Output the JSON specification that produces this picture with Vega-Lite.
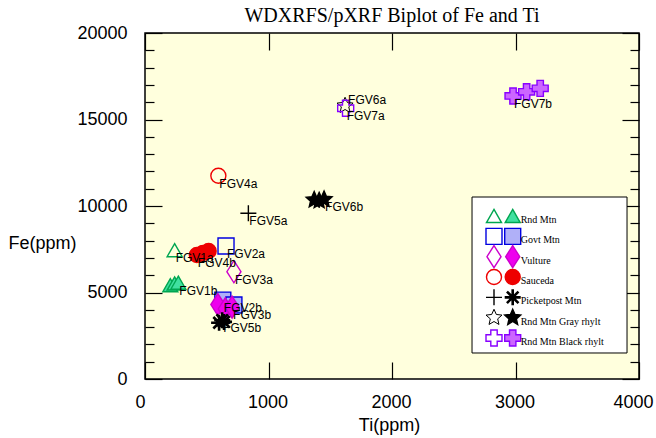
{
  "$schema": "https://vega.github.io/schema/vega-lite/v6.json",
  "width": 494,
  "height": 346,
  "autosize": {"type": "none"},
  "padding": {"left": 145, "top": 33, "right": 17, "bottom": 59},
  "background": "white",
  "title": {"text": "WDXRFS/pXRF Biplot of Fe and Ti", "font": "Liberation Serif", "fontSize": 20, "fontWeight": "normal", "color": "black", "anchor": "middle", "offset": -2},
  "config": {
    "view": {"fill": "#FFFFDD", "stroke": "black", "strokeWidth": 1.5},
    "axis": {"labelFont": "Liberation Sans", "labelFontSize": 18, "labelColor": "black", "titleFont": "Liberation Sans", "titleFontSize": 18, "titleFontWeight": "normal", "titleColor": "black", "tickColor": "black", "tickWidth": 1.2, "domain": false, "grid": false, "labelFlush": false, "labelOverlap": false},
    "point": {"size": 256, "opacity": 1}
  },
  "datasets": {
    "samples": [
      {"label": "FGV1a", "group": "Rnd Mtn", "method": "WDXRFS", "Ti": 240, "Fe": 7450},
      {"label": "", "group": "Rnd Mtn", "method": "pXRF", "Ti": 205, "Fe": 5420},
      {"label": "", "group": "Rnd Mtn", "method": "pXRF", "Ti": 240, "Fe": 5520},
      {"label": "FGV1b", "group": "Rnd Mtn", "method": "pXRF", "Ti": 270, "Fe": 5570},
      {"label": "FGV2a", "group": "Govt Mtn", "method": "WDXRFS", "Ti": 656, "Fe": 7690},
      {"label": "FGV2b", "group": "Govt Mtn", "method": "pXRF", "Ti": 630, "Fe": 4560},
      {"label": "", "group": "Govt Mtn", "method": "pXRF", "Ti": 720, "Fe": 4280},
      {"label": "FGV3a", "group": "Vulture", "method": "WDXRFS", "Ti": 720, "Fe": 6200},
      {"label": "", "group": "Vulture", "method": "pXRF", "Ti": 590, "Fe": 4300},
      {"label": "", "group": "Vulture", "method": "pXRF", "Ti": 650, "Fe": 4050},
      {"label": "FGV3b", "group": "Vulture", "method": "pXRF", "Ti": 705, "Fe": 4150},
      {"label": "FGV4a", "group": "Sauceda", "method": "WDXRFS", "Ti": 594, "Fe": 11750},
      {"label": "FGV4b", "group": "Sauceda", "method": "pXRF", "Ti": 420, "Fe": 7170},
      {"label": "", "group": "Sauceda", "method": "pXRF", "Ti": 470, "Fe": 7290},
      {"label": "", "group": "Sauceda", "method": "pXRF", "Ti": 515, "Fe": 7400},
      {"label": "FGV5a", "group": "Picketpost Mtn", "method": "WDXRFS", "Ti": 837, "Fe": 9580},
      {"label": "", "group": "Picketpost Mtn", "method": "pXRF", "Ti": 600, "Fe": 3250},
      {"label": "FGV5b", "group": "Picketpost Mtn", "method": "pXRF", "Ti": 625, "Fe": 3400},
      {"label": "", "group": "Picketpost Mtn", "method": "pXRF", "Ti": 640, "Fe": 3300},
      {"label": "FGV6a", "group": "Rnd Mtn Gray rhylt", "method": "WDXRFS", "Ti": 1620, "Fe": 15800},
      {"label": "", "group": "Rnd Mtn Gray rhylt", "method": "pXRF", "Ti": 1370, "Fe": 10350},
      {"label": "", "group": "Rnd Mtn Gray rhylt", "method": "pXRF", "Ti": 1410, "Fe": 10300},
      {"label": "FGV6b", "group": "Rnd Mtn Gray rhylt", "method": "pXRF", "Ti": 1450, "Fe": 10380},
      {"label": "FGV7a", "group": "Rnd Mtn Black rhylt", "method": "WDXRFS", "Ti": 1625, "Fe": 15650},
      {"label": "FGV7b", "group": "Rnd Mtn Black rhylt", "method": "pXRF", "Ti": 2980, "Fe": 16360},
      {"label": "", "group": "Rnd Mtn Black rhylt", "method": "pXRF", "Ti": 3090, "Fe": 16600},
      {"label": "", "group": "Rnd Mtn Black rhylt", "method": "pXRF", "Ti": 3200, "Fe": 16800}
    ]
  },
  "layer": [
    {
      "data": {"name": "samples"},
      "layer": [
        {
          "mark": {"type": "point", "opacity": 0},
          "encoding": {
            "x": {"field": "Ti", "type": "quantitative", "scale": {"domain": [0, 4000], "nice": false, "zero": false},
              "axis": {"orient": "bottom", "values": [0, 1000, 2000, 3000, 4000], "format": "d", "title": "Ti(ppm)", "titleX": 244, "titleY": 37, "titleBaseline": "top", "tickSize": -17, "labelPadding": 31,
                "labelOffset": {"condition": [{"test": "datum.value === 0", "value": -5}, {"test": "datum.value === 4000", "value": -6}], "value": -1}}},
            "y": {"field": "Fe", "type": "quantitative", "scale": {"domain": [0, 20000], "nice": false, "zero": false},
              "axis": {"orient": "left", "values": [0, 1000, 2000, 3000, 4000, 5000, 6000, 7000, 8000, 9000, 10000, 11000, 12000, 13000, 14000, 15000, 16000, 17000, 18000, 19000, 20000], "format": "d",
                "labelExpr": "datum.value % 5000 === 0 ? datum.label : ''",
                "tickSize": {"condition": {"test": "datum.value % 5000 === 0", "value": -17}, "value": -9},
                "labelPadding": 35, "title": "Fe(ppm)", "titleAngle": 0, "titleAlign": "left", "titleBaseline": "middle", "titleX": -137, "titleY": 210}}
          }
        },
        {
          "mark": {"type": "point", "opacity": 0},
          "encoding": {
            "x": {"field": "Ti", "type": "quantitative", "scale": {"domain": [0, 4000], "nice": false, "zero": false},
              "axis": {"orient": "top", "values": [0, 1000, 2000, 3000, 4000], "labels": false, "title": null, "tickSize": -17}},
            "y": {"field": "Fe", "type": "quantitative", "scale": {"domain": [0, 20000], "nice": false, "zero": false},
              "axis": {"orient": "right", "values": [0, 1000, 2000, 3000, 4000, 5000, 6000, 7000, 8000, 9000, 10000, 11000, 12000, 13000, 14000, 15000, 16000, 17000, 18000, 19000, 20000], "labels": false, "title": null,
                "tickSize": {"condition": {"test": "datum.value % 5000 === 0", "value": -17}, "value": -9}}}
          }
        },
        {
          "transform": [{"filter": "datum.method === 'WDXRFS'"}],
          "mark": {"type": "point", "filled": false, "opacity": 1, "size": 256},
          "encoding": {
            "x": {"field": "Ti", "type": "quantitative", "scale": {"domain": [0, 4000], "nice": false, "zero": false}, "axis": null},
            "y": {"field": "Fe", "type": "quantitative", "scale": {"domain": [0, 20000], "nice": false, "zero": false}, "axis": null},
            "shape": {"field": "group", "type": "nominal", "legend": null, "scale": {"domain": ["Rnd Mtn", "Govt Mtn", "Vulture", "Sauceda", "Picketpost Mtn", "Rnd Mtn Gray rhylt", "Rnd Mtn Black rhylt"], "range": ["M0,-0.82L0.94,0.82L-0.94,0.82Z", "square", "M0,-1.38L0.88,0L0,1.38L-0.88,0Z", "M0.94,0A0.94,0.94,0,1,1,-0.94,0A0.94,0.94,0,1,1,0.94,0Z", "M-1,0L1,0M0,-1L0,1", "M0,-1.05L0.29,-0.4L1,-0.32L0.46,0.15L0.62,0.85L0,0.48L-0.62,0.85L-0.46,0.15L-1,-0.32L-0.29,-0.4Z", "cross"]}},
            "stroke": {"field": "group", "type": "nominal", "legend": null, "scale": {"domain": ["Rnd Mtn", "Govt Mtn", "Vulture", "Sauceda", "Picketpost Mtn", "Rnd Mtn Gray rhylt", "Rnd Mtn Black rhylt"], "range": ["#00A651", "#0000E0", "#CC00CC", "#EE0000", "#000000", "#000000", "#8800FF"]}},
            "strokeWidth": {"condition": {"test": "datum.group === 'Rnd Mtn Gray rhylt'", "value": 1}, "value": 1.4}
          }
        },
        {
          "transform": [{"filter": "datum.method === 'pXRF'"}],
          "mark": {"type": "point", "filled": true, "opacity": 1, "size": 256},
          "encoding": {
            "x": {"field": "Ti", "type": "quantitative", "scale": {"domain": [0, 4000], "nice": false, "zero": false}, "axis": null},
            "y": {"field": "Fe", "type": "quantitative", "scale": {"domain": [0, 20000], "nice": false, "zero": false}, "axis": null},
            "shape": {"field": "group", "type": "nominal", "legend": null, "scale": {"domain": ["Rnd Mtn", "Govt Mtn", "Vulture", "Sauceda", "Picketpost Mtn", "Rnd Mtn Gray rhylt", "Rnd Mtn Black rhylt"], "range": ["M0,-0.82L0.94,0.82L-0.94,0.82Z", "square", "M0,-1.38L0.88,0L0,1.38L-0.88,0Z", "M0.94,0A0.94,0.94,0,1,1,-0.94,0A0.94,0.94,0,1,1,0.94,0Z", "M-1,0L1,0M0,-1L0,1M-0.72,-0.72L0.72,0.72M-0.72,0.72L0.72,-0.72", "M0,-1.05L0.29,-0.4L1,-0.32L0.46,0.15L0.62,0.85L0,0.48L-0.62,0.85L-0.46,0.15L-1,-0.32L-0.29,-0.4Z", "cross"]}},
            "fill": {"field": "group", "type": "nominal", "legend": null, "scale": {"domain": ["Rnd Mtn", "Govt Mtn", "Vulture", "Sauceda", "Picketpost Mtn", "Rnd Mtn Gray rhylt", "Rnd Mtn Black rhylt"], "range": ["#40E0A0", "#B0B0F8", "#EE00EE", "#EE0000", "#000000", "#000000", "#CC66FF"]}},
            "stroke": {"field": "group", "type": "nominal", "legend": null, "scale": {"domain": ["Rnd Mtn", "Govt Mtn", "Vulture", "Sauceda", "Picketpost Mtn", "Rnd Mtn Gray rhylt", "Rnd Mtn Black rhylt"], "range": ["#00A651", "#0000E0", "#CC00CC", "#EE0000", "#000000", "#000000", "#8800FF"]}},
            "strokeWidth": {"condition": {"test": "datum.group === 'Picketpost Mtn'", "value": 2.6}, "value": 1.4}
          }
        },
        {
          "transform": [{"filter": "datum.label !== '' && datum.label !== 'FGV6a'"}],
          "mark": {"type": "text", "align": "left", "baseline": "middle", "dx": 1, "dy": 8, "font": "Liberation Sans", "fontSize": 12, "color": "black"},
          "encoding": {
            "x": {"field": "Ti", "type": "quantitative", "scale": {"domain": [0, 4000], "nice": false, "zero": false}, "axis": null},
            "y": {"field": "Fe", "type": "quantitative", "scale": {"domain": [0, 20000], "nice": false, "zero": false}, "axis": null},
            "text": {"field": "label"}
          }
        },
        {
          "transform": [{"filter": "datum.label === 'FGV6a'"}],
          "mark": {"type": "text", "align": "left", "baseline": "middle", "dx": 3, "dy": -6, "font": "Liberation Sans", "fontSize": 12, "color": "black"},
          "encoding": {
            "x": {"field": "Ti", "type": "quantitative", "scale": {"domain": [0, 4000], "nice": false, "zero": false}, "axis": null},
            "y": {"field": "Fe", "type": "quantitative", "scale": {"domain": [0, 20000], "nice": false, "zero": false}, "axis": null},
            "text": {"field": "label"}
          }
        },
        {
          "data": {"values": [{"box": "legend"}]},
          "mark": {"type": "rect", "fill": "white", "stroke": "black", "strokeWidth": 1},
          "encoding": {
            "x": {"datum": 2648, "type": "quantitative", "scale": {"domain": [0, 4000], "nice": false, "zero": false}, "axis": null},
            "x2": {"datum": 3903},
            "y": {"datum": 10520, "type": "quantitative", "scale": {"domain": [0, 20000], "nice": false, "zero": false}, "axis": null},
            "y2": {"datum": 1503}
          }
        }
      ],
      "resolve": {"axis": {"x": "independent", "y": "independent"}, "scale": {"shape": "independent", "stroke": "independent", "fill": "independent"}}
    },
    {
      "data": {"name": "samples"},
      "transform": [{"aggregate": [{"op": "count", "as": "n"}], "groupby": ["group", "method"]}],
      "encoding": {
        "x": {"field": "method", "type": "nominal", "axis": null, "scale": {"type": "point", "padding": 0, "domain": ["WDXRFS", "pXRF"], "range": [349, 367.7]}},
        "y": {"field": "group", "type": "nominal", "axis": null, "scale": {"type": "point", "padding": 0, "domain": ["Rnd Mtn", "Govt Mtn", "Vulture", "Sauceda", "Picketpost Mtn", "Rnd Mtn Gray rhylt", "Rnd Mtn Black rhylt"], "range": [183, 305]}}
      },
      "layer": [
        {
          "transform": [{"filter": "datum.method === 'WDXRFS'"}],
          "mark": {"type": "point", "filled": false, "opacity": 1, "size": 256},
          "encoding": {
            "shape": {"field": "group", "type": "nominal", "legend": null, "scale": {"domain": ["Rnd Mtn", "Govt Mtn", "Vulture", "Sauceda", "Picketpost Mtn", "Rnd Mtn Gray rhylt", "Rnd Mtn Black rhylt"], "range": ["M0,-0.82L0.94,0.82L-0.94,0.82Z", "square", "M0,-1.38L0.88,0L0,1.38L-0.88,0Z", "M0.94,0A0.94,0.94,0,1,1,-0.94,0A0.94,0.94,0,1,1,0.94,0Z", "M-1,0L1,0M0,-1L0,1", "M0,-1.05L0.29,-0.4L1,-0.32L0.46,0.15L0.62,0.85L0,0.48L-0.62,0.85L-0.46,0.15L-1,-0.32L-0.29,-0.4Z", "cross"]}},
            "stroke": {"field": "group", "type": "nominal", "legend": null, "scale": {"domain": ["Rnd Mtn", "Govt Mtn", "Vulture", "Sauceda", "Picketpost Mtn", "Rnd Mtn Gray rhylt", "Rnd Mtn Black rhylt"], "range": ["#00A651", "#0000E0", "#CC00CC", "#EE0000", "#000000", "#000000", "#8800FF"]}},
            "strokeWidth": {"condition": {"test": "datum.group === 'Rnd Mtn Gray rhylt'", "value": 1}, "value": 1.4}
          }
        },
        {
          "transform": [{"filter": "datum.method === 'pXRF'"}],
          "mark": {"type": "point", "filled": true, "opacity": 1, "size": 256},
          "encoding": {
            "shape": {"field": "group", "type": "nominal", "legend": null, "scale": {"domain": ["Rnd Mtn", "Govt Mtn", "Vulture", "Sauceda", "Picketpost Mtn", "Rnd Mtn Gray rhylt", "Rnd Mtn Black rhylt"], "range": ["M0,-0.82L0.94,0.82L-0.94,0.82Z", "square", "M0,-1.38L0.88,0L0,1.38L-0.88,0Z", "M0.94,0A0.94,0.94,0,1,1,-0.94,0A0.94,0.94,0,1,1,0.94,0Z", "M-1,0L1,0M0,-1L0,1M-0.72,-0.72L0.72,0.72M-0.72,0.72L0.72,-0.72", "M0,-1.05L0.29,-0.4L1,-0.32L0.46,0.15L0.62,0.85L0,0.48L-0.62,0.85L-0.46,0.15L-1,-0.32L-0.29,-0.4Z", "cross"]}},
            "fill": {"field": "group", "type": "nominal", "legend": null, "scale": {"domain": ["Rnd Mtn", "Govt Mtn", "Vulture", "Sauceda", "Picketpost Mtn", "Rnd Mtn Gray rhylt", "Rnd Mtn Black rhylt"], "range": ["#40E0A0", "#B0B0F8", "#EE00EE", "#EE0000", "#000000", "#000000", "#CC66FF"]}},
            "stroke": {"field": "group", "type": "nominal", "legend": null, "scale": {"domain": ["Rnd Mtn", "Govt Mtn", "Vulture", "Sauceda", "Picketpost Mtn", "Rnd Mtn Gray rhylt", "Rnd Mtn Black rhylt"], "range": ["#00A651", "#0000E0", "#CC00CC", "#EE0000", "#000000", "#000000", "#8800FF"]}},
            "strokeWidth": {"condition": {"test": "datum.group === 'Picketpost Mtn'", "value": 2.6}, "value": 1.4}
          }
        },
        {
          "transform": [{"filter": "datum.method === 'pXRF'"}],
          "mark": {"type": "text", "align": "left", "baseline": "middle", "dx": 8, "dy": 4, "font": "Liberation Serif", "fontSize": 10, "color": "black"},
          "encoding": {"text": {"field": "group"}}
        }
      ],
      "resolve": {"scale": {"shape": "independent", "stroke": "independent", "fill": "independent"}}
    }
  ],
  "resolve": {"scale": {"x": "independent", "y": "independent", "shape": "independent", "stroke": "independent", "fill": "independent"}}
}
